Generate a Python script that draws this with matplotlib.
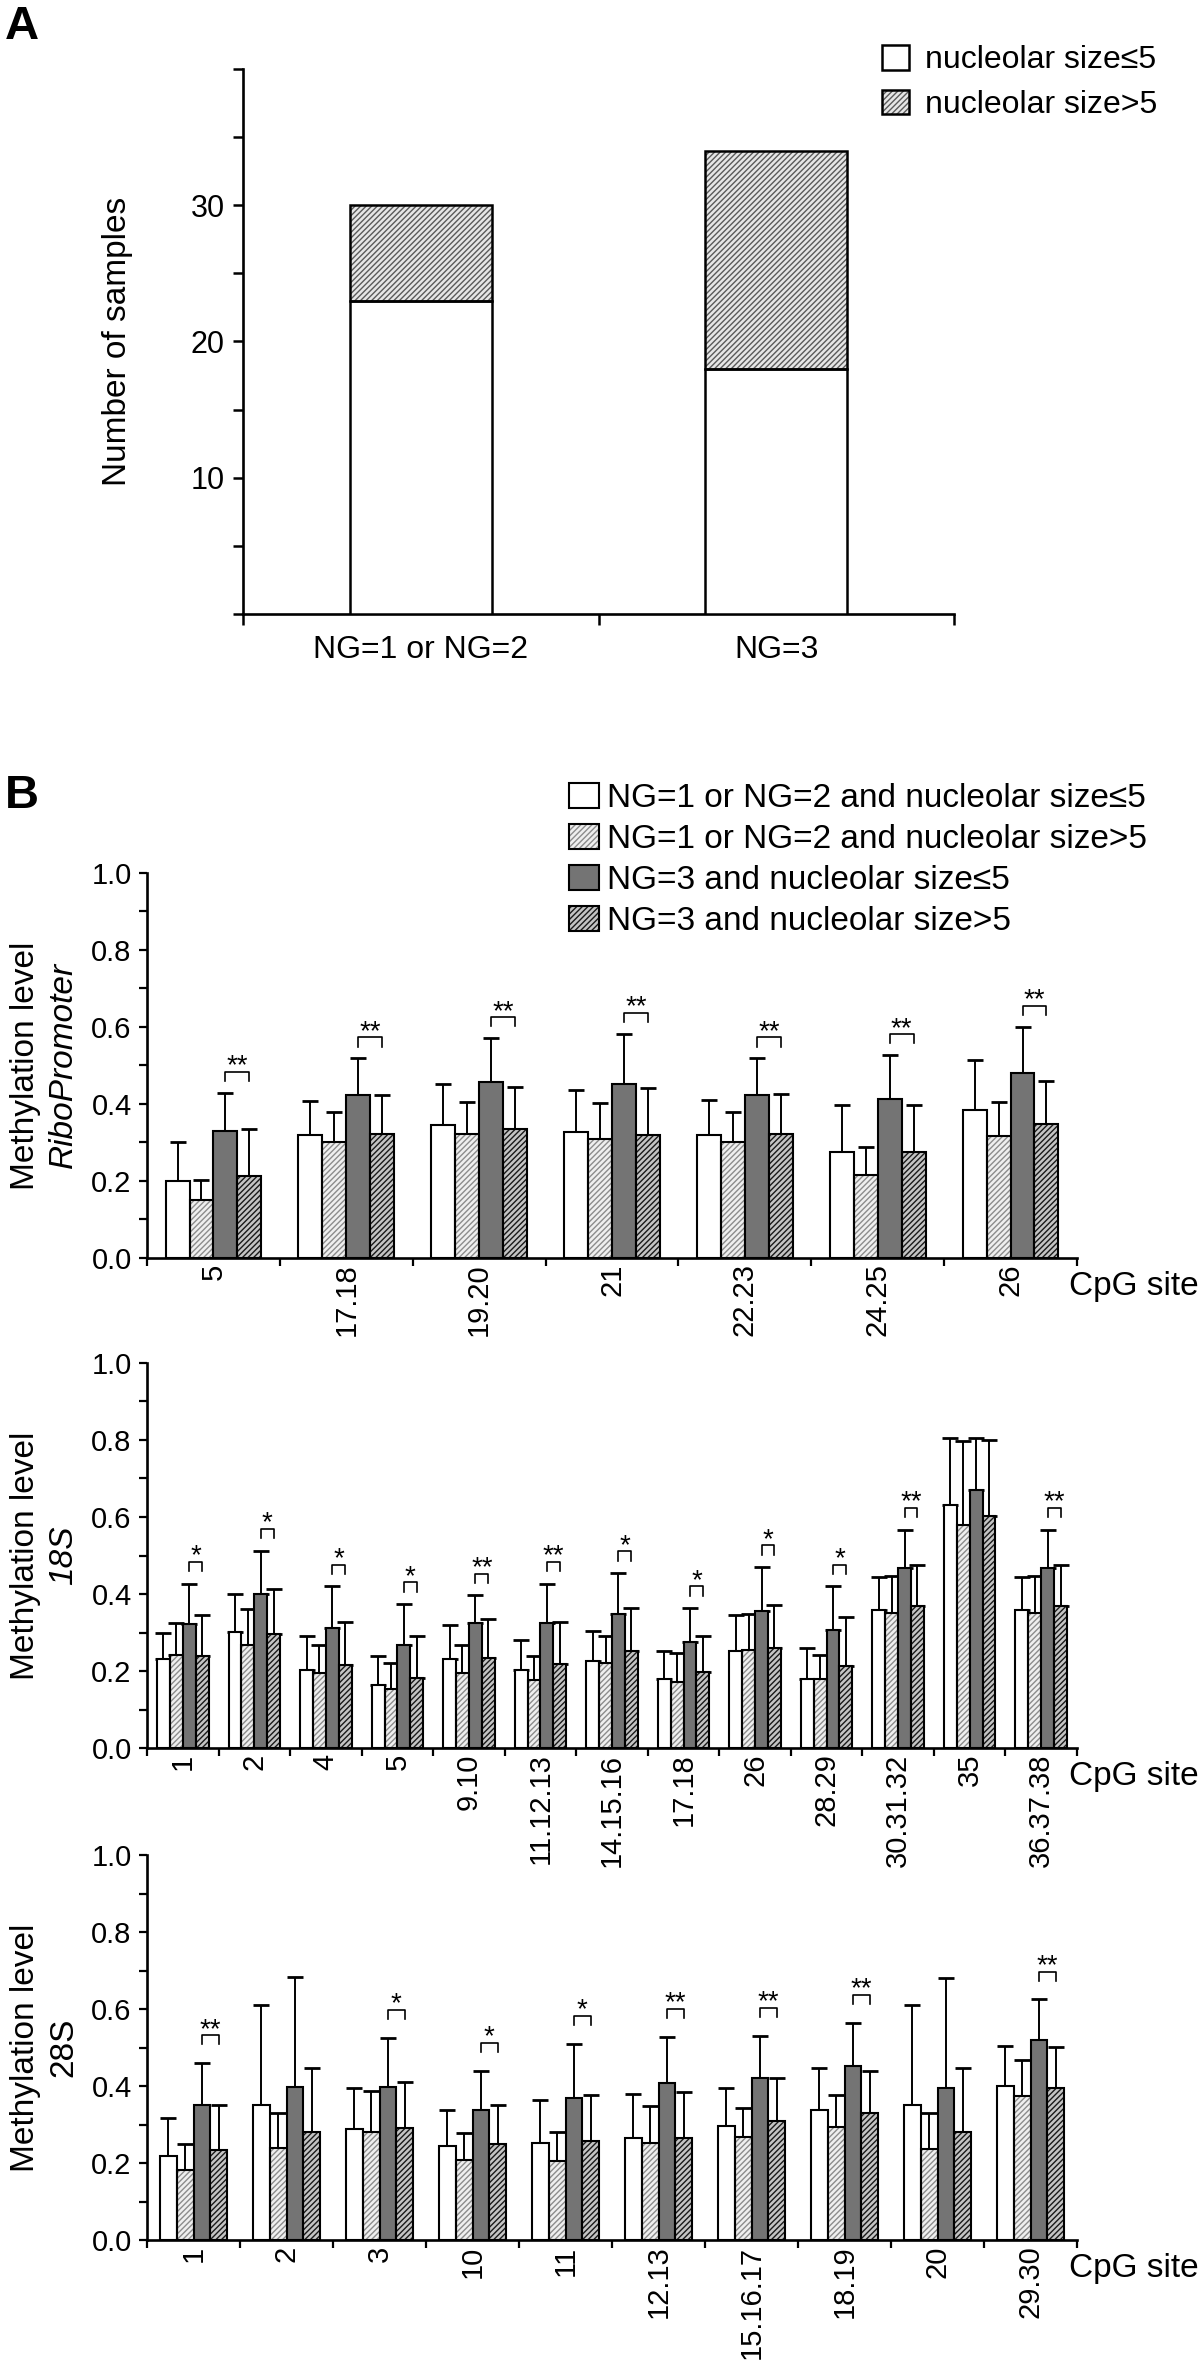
import matplotlib
matplotlib.use("Agg")
import matplotlib.pyplot as plt
import matplotlib.transforms as mtransforms
from matplotlib.patches import Patch
import numpy as np

plt.rcParams["font.family"] = ["Liberation Sans", "DejaVu Sans"]
plt.rcParams["hatch.linewidth"] = 1.0

# ---- panel A data ----
ng_groups = ["NG=1 or NG=2", "NG=3"]
small_counts = [23, 18]
large_counts = [7, 16]
size_labels = ["nucleolar size≤5", "nucleolar size>5"]

# ---- panel B data ----
series_names = [
    "NG=1 or NG=2 and nucleolar size≤5",
    "NG=1 or NG=2 and nucleolar size>5",
    "NG=3 and nucleolar size≤5",
    "NG=3 and nucleolar size>5",
]

ribo_sites = ["5", "17.18", "19.20", "21", "22.23", "24.25", "26"]
ribo_mean = [
    [0.200, 0.320, 0.346, 0.328, 0.320, 0.275, 0.383],
    [0.150, 0.302, 0.321, 0.309, 0.302, 0.216, 0.317],
    [0.330, 0.423, 0.456, 0.452, 0.423, 0.412, 0.481],
    [0.213, 0.322, 0.335, 0.320, 0.322, 0.274, 0.348],
]
ribo_sd = [
    [0.100, 0.088, 0.105, 0.108, 0.090, 0.121, 0.131],
    [0.053, 0.076, 0.083, 0.093, 0.077, 0.072, 0.089],
    [0.098, 0.095, 0.114, 0.129, 0.095, 0.114, 0.118],
    [0.121, 0.102, 0.110, 0.120, 0.104, 0.122, 0.112],
]
ribo_sig = ["**", "**", "**", "**", "**", "**", "**"]

s18_sites = ["1", "2", "4", "5", "9.10", "11.12.13", "14.15.16", "17.18",
             "26", "28.29", "30.31.32", "35", "36.37.38"]
s18_mean = [
    [0.232, 0.301, 0.202, 0.165, 0.232, 0.202, 0.225, 0.179, 0.251, 0.179, 0.358, 0.632, 0.358],
    [0.241, 0.267, 0.195, 0.153, 0.195, 0.177, 0.221, 0.171, 0.255, 0.179, 0.351, 0.578, 0.351],
    [0.322, 0.400, 0.312, 0.268, 0.325, 0.325, 0.348, 0.275, 0.355, 0.307, 0.468, 0.669, 0.468],
    [0.238, 0.296, 0.215, 0.182, 0.235, 0.218, 0.253, 0.197, 0.260, 0.212, 0.368, 0.603, 0.368],
]
s18_sd = [
    [0.067, 0.099, 0.088, 0.073, 0.087, 0.079, 0.080, 0.074, 0.095, 0.081, 0.086, 0.173, 0.086],
    [0.084, 0.094, 0.073, 0.069, 0.073, 0.061, 0.069, 0.077, 0.093, 0.063, 0.095, 0.219, 0.095],
    [0.105, 0.113, 0.108, 0.106, 0.072, 0.102, 0.107, 0.089, 0.115, 0.113, 0.099, 0.136, 0.099],
    [0.107, 0.117, 0.112, 0.108, 0.100, 0.109, 0.111, 0.095, 0.112, 0.128, 0.108, 0.197, 0.108],
]
s18_sig = ["*", "*", "*", "*", "**", "**", "*", "*", "*", "*", "**", "", "**"]

s28_sites = ["1", "2", "3", "10", "11", "12.13", "15.16.17", "18.19", "20", "29.30"]
s28_mean = [
    [0.219, 0.351, 0.289, 0.245, 0.252, 0.266, 0.296, 0.338, 0.351, 0.400],
    [0.181, 0.239, 0.281, 0.208, 0.205, 0.252, 0.268, 0.294, 0.236, 0.375],
    [0.351, 0.398, 0.398, 0.338, 0.370, 0.408, 0.421, 0.452, 0.396, 0.520],
    [0.233, 0.281, 0.292, 0.249, 0.257, 0.266, 0.308, 0.330, 0.281, 0.395],
]
s28_sd = [
    [0.099, 0.260, 0.106, 0.093, 0.112, 0.114, 0.100, 0.109, 0.260, 0.105],
    [0.069, 0.091, 0.107, 0.070, 0.076, 0.096, 0.076, 0.083, 0.094, 0.093],
    [0.109, 0.284, 0.128, 0.102, 0.140, 0.120, 0.110, 0.113, 0.285, 0.105],
    [0.118, 0.166, 0.118, 0.102, 0.120, 0.119, 0.113, 0.110, 0.166, 0.107],
]
s28_sig = ["**", "", "*", "*", "*", "**", "**", "**", "", "**"]

# bar styles: (face, hatch, hatch colour)
styles = [
    ("white", None, None),
    ("#efefef", "//////", "#8c8c8c"),
    ("#747474", None, None),
    ("#c4c4c4", "//////", "#1a1a1a"),
]

EDGE_LW = 1.5
SPINE_LW = 1.9


def style_axes(ax):
    ax.patch.set_visible(False)
    ax.spines["top"].set_visible(False)
    ax.spines["right"].set_visible(False)
    ax.spines["left"].set_linewidth(SPINE_LW)
    ax.spines["bottom"].set_linewidth(SPINE_LW)


def draw_bar(ax, x, h, width, style, bottom=0, yerr=None, lw=EDGE_LW):
    face, hatch, hcol = style
    if hatch:
        ax.bar(x, h, width, bottom=bottom, color=face, hatch=hatch,
               edgecolor=hcol, linewidth=0, zorder=2)
        face = "none"
    ekw = dict(elinewidth=1.4, capsize=6, capthick=2.0, ecolor="black", zorder=1)
    ax.bar(x, h, width, bottom=bottom, color=face, edgecolor="black",
           linewidth=lw, zorder=3, yerr=yerr, error_kw=ekw)


def legend_handle(style, lw=EDGE_LW):
    face, hatch, hcol = style
    if hatch:
        return (Patch(facecolor=face, hatch=hatch, edgecolor=hcol, linewidth=0),
                Patch(facecolor="none", edgecolor="black", linewidth=lw))
    return Patch(facecolor=face, edgecolor="black", linewidth=lw)


fig = plt.figure(figsize=(12, 23.77), dpi=100)

# ================= panel A =================
axA = fig.add_axes([0.2025, 0.7417, 0.5925, 0.2293])
style_axes(axA)
xa = np.arange(len(ng_groups))
styleA_hatch = ("#e6e6e6", "//////", "#5a5a5a")
for i in range(len(ng_groups)):
    draw_bar(axA, xa[i], small_counts[i], 0.4, styles[0], lw=1.8)
    draw_bar(axA, xa[i], large_counts[i], 0.4, styleA_hatch, bottom=small_counts[i], lw=1.8)
axA.set_xlim(-0.5, 1.5)
axA.set_ylim(0, 40)
axA.set_yticks([10, 20, 30])
axA.set_yticks([0, 5, 15, 25, 35, 40], minor=True)
axA.tick_params(axis="y", which="both", direction="out", length=7, width=1.8,
                labelsize=22, pad=6)
axA.set_xticks([-0.5, 0.5, 1.5], ["", "", ""])
axA.set_xticks(xa, ng_groups, minor=True)
axA.tick_params(axis="x", which="major", direction="out", length=8, width=1.8)
axA.tick_params(axis="x", which="minor", length=0, labelsize=23, pad=15)
fig.text(0.098, 0.7417 + 0.2293 / 2, "Number of samples", rotation=90,
         ha="center", va="center", fontsize=24)
fig.legend([legend_handle(styles[0], 1.8), legend_handle(styleA_hatch, 1.8)], size_labels,
           loc="upper left", bbox_to_anchor=(0.735, 0.981), frameon=False,
           fontsize=23, handlelength=0.85, handleheight=0.8, handletextpad=0.5,
           labelspacing=0.45, borderpad=0, borderaxespad=0)
fig.text(0.004, 0.998, "A", fontsize=34, fontweight="bold", va="top", ha="left")

# ================= panel B =================
fig.text(0.004, 1 - 774 / 2377, "B", fontsize=34, fontweight="bold", va="top", ha="left")
fig.legend([legend_handle(s) for s in styles], series_names,
           loc="upper left", bbox_to_anchor=(0.474, 1 - 783 / 2377), frameon=False,
           fontsize=24, handlelength=0.9, handleheight=0.75, handletextpad=0.25,
           labelspacing=0.3, borderpad=0, borderaxespad=0)

panels = [
    (ribo_sites, ribo_mean, ribo_sd, ribo_sig, "RiboPromoter", "italic", 0.4708, 0.055),
    (s18_sites, s18_mean, s18_sd, s18_sig, "18S", "italic", 0.2646, 0.056),
    (s28_sites, s28_mean, s28_sd, s28_sig, "28S", "normal", 0.0576, 0.072),
]

bw = 0.18
for sites, means, sds, sigs, gene, gstyle, bottom_frac, sig_gap in panels:
    ax = fig.add_axes([0.1225, bottom_frac, 0.775, 0.162])
    style_axes(ax)
    n = len(sites)
    x = np.arange(n)
    for s in range(4):
        xs = x + (s - 1.5) * bw
        for g in range(n):
            draw_bar(ax, xs[g], means[s][g], bw, styles[s],
                     yerr=[[0], [sds[s][g]]])
    # significance brackets between NG=3 groups
    for g in range(n):
        if not sigs[g]:
            continue
        x0 = x[g] + 0.5 * bw
        x1 = x[g] + 1.5 * bw
        yb = means[2][g] + sds[2][g] + sig_gap
        ax.plot([x0, x0, x1, x1], [yb - 0.024, yb, yb, yb - 0.024],
                color="black", lw=1.2, zorder=4)
        ax.text((x0 + x1) / 2, yb - 0.004, sigs[g], ha="center", va="baseline",
                fontsize=20)
    ax.set_xlim(-0.5, n - 0.5)
    ax.set_ylim(0, 1.0)
    ax.set_yticks(np.arange(0, 1.01, 0.2), [f"{v:.1f}" for v in np.arange(0, 1.01, 0.2)])
    ax.set_yticks(np.arange(0.1, 1.0, 0.2), minor=True)
    ax.tick_params(axis="y", which="both", direction="out", length=6, width=1.6,
                   labelsize=21, pad=5)
    ax.set_xticks(np.arange(-0.5, n, 1.0), [""] * (n + 1))
    ax.set_xticks(x, sites, minor=True)
    ax.tick_params(axis="x", which="major", direction="out", length=6, width=1.6)
    ax.tick_params(axis="x", which="minor", length=0, labelsize=21, pad=4,
                   labelrotation=90)
    tr = mtransforms.blended_transform_factory(fig.transFigure, ax.transAxes)
    ax.text(0.021, 0.5, "Methylation level", rotation=90, transform=tr,
            ha="center", va="center", fontsize=24)
    ax.text(0.053, 0.5, gene, rotation=90, transform=tr, ha="center",
            va="center", fontsize=24, fontstyle=gstyle)
    ax.text(0.891, -0.073, "CpG site", transform=tr, ha="left", va="center",
            fontsize=24)

fig.savefig("out.png", dpi=100)
